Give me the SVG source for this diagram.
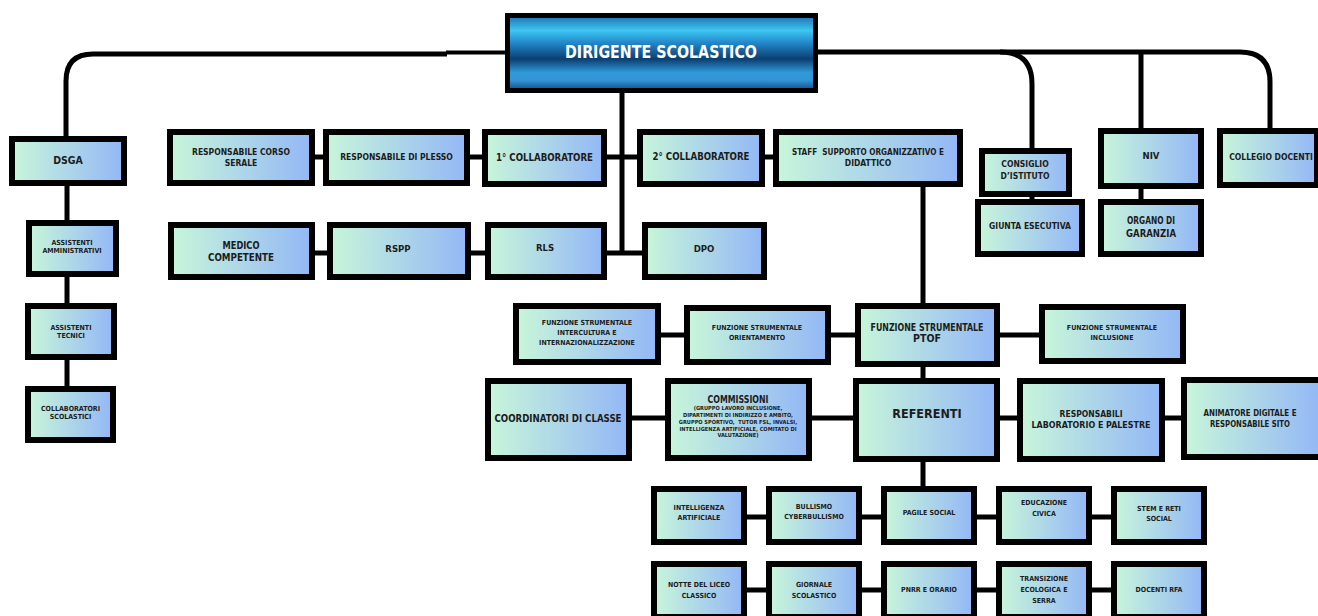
<svg xmlns="http://www.w3.org/2000/svg" width="1318" height="616" viewBox="0 0 1318 616">
<defs>
<linearGradient id="g" x1="0" y1="0" x2="1" y2="0">
<stop offset="0" stop-color="#c8f6da"/>
<stop offset="1" stop-color="#93b7f6"/>
</linearGradient>
<linearGradient id="gd" x1="0" y1="0" x2="0" y2="1">
<stop offset="0" stop-color="#1f6cae"/>
<stop offset="0.2" stop-color="#3dc7f2"/>
<stop offset="0.36" stop-color="#2389cb"/>
<stop offset="0.58" stop-color="#0b3e70"/>
<stop offset="0.76" stop-color="#3199d8"/>
<stop offset="0.86" stop-color="#3495d6"/>
<stop offset="1" stop-color="#0f4a86"/>
</linearGradient>
<style>
.box{fill:url(#g);stroke:#000;stroke-width:6}
.ln{stroke:#000;stroke-width:5;fill:none}
text{font-family:"Liberation Sans Narrow","DejaVu Sans Condensed","Liberation Sans",sans-serif;font-weight:bold;fill:#1c1c1c;text-anchor:middle;dominant-baseline:central}
.s5{font-size:5.6px}.s7{font-size:7px}.s8{font-size:8.5px}.s9{font-size:9.5px}.s10{font-size:10.5px}.s11{font-size:11.5px}.s12{font-size:12.5px}
</style>
</defs>
<g id="connectors">
<path class="ln" d="M505,52.5 H446" style="stroke-width:4"/>
<path class="ln" d="M447,54 H93 Q66,54 66,81 V136"/>
<path class="ln" d="M818,52 H1240 Q1270,52 1270,82 V128"/>
<path class="ln" d="M1000,52 Q1032,52 1032,84 V148"/>
<path class="ln" d="M1141,52 V128 M1141,189 V199 M1032,197 V199"/>
<path class="ln" d="M622,93 V253"/>
<path class="ln" d="M67,186 V220 M67,277 V303 M67,360 V386"/>
<path class="ln" d="M315,157 H323 M470,157 H482 M607,157 H637 M765,157 H773"/>
<path class="ln" d="M315,253 H327 M471,253 H485 M607,253 H642"/>
<path class="ln" d="M923,187 V303 M923,367 V378 M923,462 V486"/>
<path class="ln" d="M661,335 H684 M831,335 H855 M1000,335 H1039"/>
<path class="ln" d="M632,418 H665 M812,418 H853 M1000,418 H1017 M1165,418 H1181"/>
<path class="ln" d="M747,517 H766 M862,517 H881 M977,517 H996 M1092,517 H1111"/>
<path class="ln" d="M747,590 H766 M862,590 H881 M977,590 H996 M1092,590 H1111"/>
</g>
<g id="dirigente">
<rect x="507.5" y="15.5" width="308" height="75" fill="url(#gd)" stroke="#000" stroke-width="5"/>
<text x="661" y="52" style="font-size:17px;fill:#fff" textLength="192" lengthAdjust="spacingAndGlyphs">DIRIGENTE SCOLASTICO</text>
</g>
<g id="dsga"><rect class="box" x="12" y="139" width="112" height="44"/><text class="s10" x="68" y="160">DSGA</text></g>
<g id="ass-amm"><rect class="box" x="29" y="223" width="87" height="51"/><text class="s7" x="72" y="243">ASSISTENTI</text><text class="s7" x="72" y="251">AMMINISTRATIVI</text></g>
<g id="ass-tec"><rect class="box" x="28" y="306" width="86" height="51"/><text class="s7" x="71" y="328">ASSISTENTI</text><text class="s7" x="71" y="336">TECNICI</text></g>
<g id="coll-scol"><rect class="box" x="28" y="389" width="85" height="51"/><text class="s7" x="70.5" y="409">COLLABORATORI</text><text class="s7" x="70.5" y="417">SCOLASTICI</text></g>
<g id="resp-serale"><rect class="box" x="170" y="132" width="142" height="51"/><text class="s8" x="241" y="152">RESPONSABILE CORSO</text><text class="s8" x="241" y="163">SERALE</text></g>
<g id="resp-plesso"><rect class="box" x="326" y="132" width="141" height="51"/><text class="s8" x="396.5" y="157">RESPONSABILE DI PLESSO</text></g>
<g id="collab1"><rect class="box" x="485" y="132" width="119" height="52"/><text x="544.5" y="157" style="font-size:11px" textLength="97" lengthAdjust="spacingAndGlyphs">1° COLLABORATORE</text></g>
<g id="collab2"><rect class="box" x="640" y="132" width="122" height="52"/><text x="701" y="156" style="font-size:11px" textLength="97" lengthAdjust="spacingAndGlyphs">2° COLLABORATORE</text></g>
<g id="staff"><rect class="box" x="776" y="132" width="184" height="52"/><text class="s8" x="868" y="152" xml:space="preserve" textLength="152" lengthAdjust="spacingAndGlyphs">STAFF  SUPPORTO ORGANIZZATIVO E</text><text class="s8" x="868" y="163">DIDATTICO</text></g>
<g id="consiglio"><rect class="box" x="982" y="151" width="87" height="43"/><text class="s8" x="1025" y="164">CONSIGLIO</text><text class="s8" x="1025" y="176">D’ISTITUTO</text></g>
<g id="giunta"><rect class="box" x="978" y="202" width="104" height="52"/><text class="s8" x="1030" y="226">GIUNTA ESECUTIVA</text></g>
<g id="niv"><rect class="box" x="1101" y="131" width="100" height="55"/><text class="s9" x="1151" y="155">NIV</text></g>
<g id="organo"><rect class="box" x="1101" y="202" width="100" height="52"/><text class="s10" x="1151" y="220" textLength="48" lengthAdjust="spacingAndGlyphs">ORGANO DI</text><text class="s10" x="1151" y="233" textLength="50" lengthAdjust="spacingAndGlyphs">GARANZIA</text></g>
<g id="collegio"><rect class="box" x="1220" y="131" width="97" height="54"/><text class="s8" x="1271" y="157">COLLEGIO DOCENTI</text></g>
<g id="medico"><rect class="box" x="171" y="225" width="141" height="52"/><text class="s10" x="241" y="245" textLength="37" lengthAdjust="spacingAndGlyphs">MEDICO</text><text class="s10" x="241" y="257" textLength="66" lengthAdjust="spacingAndGlyphs">COMPETENTE</text></g>
<g id="rspp"><rect class="box" x="330" y="225" width="138" height="52"/><text class="s9" x="398" y="248">RSPP</text></g>
<g id="rls"><rect class="box" x="488" y="225" width="116" height="52"/><text class="s9" x="545" y="247">RLS</text></g>
<g id="dpo"><rect class="box" x="645" y="225" width="119" height="52"/><text class="s9" x="704" y="248">DPO</text></g>
<g id="fs-intercultura"><rect class="box" x="516" y="306" width="142" height="56"/><text class="s7" x="587" y="323">FUNZIONE STRUMENTALE</text><text class="s7" x="587" y="333">INTERCULTURA E</text><text class="s7" x="587" y="343">INTERNAZIONALIZZAZIONE</text></g>
<g id="fs-orientamento"><rect class="box" x="687" y="308" width="141" height="54"/><text class="s7" x="757" y="328">FUNZIONE STRUMENTALE</text><text class="s7" x="757" y="338">ORIENTAMENTO</text></g>
<g id="fs-ptof"><rect class="box" x="858" y="306" width="139" height="58"/><text class="s10" x="927" y="327" textLength="113" lengthAdjust="spacingAndGlyphs">FUNZIONE STRUMENTALE</text><text class="s10" x="927" y="338">PTOF</text></g>
<g id="fs-inclusione"><rect class="box" x="1042" y="307" width="141" height="54"/><text class="s7" x="1112" y="328">FUNZIONE STRUMENTALE</text><text class="s7" x="1112" y="338">INCLUSIONE</text></g>
<g id="coordinatori"><rect class="box" x="488" y="381" width="141" height="77"/><text class="s10" x="558" y="418" textLength="127" lengthAdjust="spacingAndGlyphs">COORDINATORI DI CLASSE</text></g>
<g id="commissioni"><rect class="box" x="668" y="381" width="141" height="77"/><text x="738" y="399" style="font-size:10px" textLength="61" lengthAdjust="spacingAndGlyphs">COMMISSIONI</text><text class="s5" x="738" y="408">(GRUPPO LAVORO INCLUSIONE,</text><text class="s5" x="738" y="415">DIPARTIMENTI DI INDIRIZZO E AMBITO,</text><text class="s5" x="738" y="422" xml:space="preserve">GRUPPO SPORTIVO,  TUTOR FSL, INVALSI,</text><text class="s5" x="738" y="428.5">INTELLIGENZA ARTIFICIALE, COMITATO DI</text><text class="s5" x="738" y="435">VALUTAZIONE)</text></g>
<g id="referenti"><rect class="box" x="856" y="381" width="141" height="78"/><text class="s12" x="927" y="413">REFERENTI</text></g>
<g id="resp-lab"><rect class="box" x="1020" y="381" width="142" height="78"/><text class="s9" x="1091" y="413" textLength="63" lengthAdjust="spacingAndGlyphs">RESPONSABILI</text><text class="s9" x="1091" y="424" textLength="119" lengthAdjust="spacingAndGlyphs">LABORATORIO E PALESTRE</text></g>
<g id="animatore"><rect class="box" x="1184" y="380" width="137" height="77"/><text class="s9" x="1250" y="412" textLength="93" lengthAdjust="spacingAndGlyphs">ANIMATORE DIGITALE E</text><text class="s9" x="1250" y="423" textLength="80" lengthAdjust="spacingAndGlyphs">RESPONSABILE SITO</text></g>
<g id="ia"><rect class="box" x="654" y="489" width="90" height="53"/><text class="s7" x="699" y="508">INTELLIGENZA</text><text class="s7" x="699" y="518">ARTIFICIALE</text></g>
<g id="bullismo"><rect class="box" x="769" y="489" width="90" height="53"/><text class="s7" x="814" y="507">BULLISMO</text><text class="s7" x="814" y="517">CYBERBULLISMO</text></g>
<g id="pagile"><rect class="box" x="884" y="489" width="90" height="53"/><text class="s7" x="929" y="513">PAGILE SOCIAL</text></g>
<g id="educazione"><rect class="box" x="999" y="489" width="90" height="53"/><text class="s7" x="1044" y="503">EDUCAZIONE</text><text class="s7" x="1044" y="514">CIVICA</text></g>
<g id="stem"><rect class="box" x="1114" y="489" width="90" height="53"/><text class="s7" x="1159" y="509">STEM E RETI</text><text class="s7" x="1159" y="519">SOCIAL</text></g>
<g id="notte"><rect class="box" x="654" y="564" width="90" height="53"/><text class="s7" x="699" y="585">NOTTE DEL LICEO</text><text class="s7" x="699" y="596">CLASSICO</text></g>
<g id="giornale"><rect class="box" x="769" y="564" width="90" height="53"/><text class="s7" x="814" y="585">GIORNALE</text><text class="s7" x="814" y="596">SCOLASTICO</text></g>
<g id="pnrr"><rect class="box" x="884" y="564" width="90" height="53"/><text class="s7" x="929" y="590">PNRR E ORARIO</text></g>
<g id="transizione"><rect class="box" x="999" y="564" width="90" height="53"/><text class="s7" x="1044" y="579">TRANSIZIONE</text><text class="s7" x="1044" y="590">ECOLOGICA E</text><text class="s7" x="1044" y="601">SERRA</text></g>
<g id="docenti-rfa"><rect class="box" x="1114" y="564" width="90" height="53"/><text class="s7" x="1159" y="590">DOCENTI RFA</text></g>
</svg>
